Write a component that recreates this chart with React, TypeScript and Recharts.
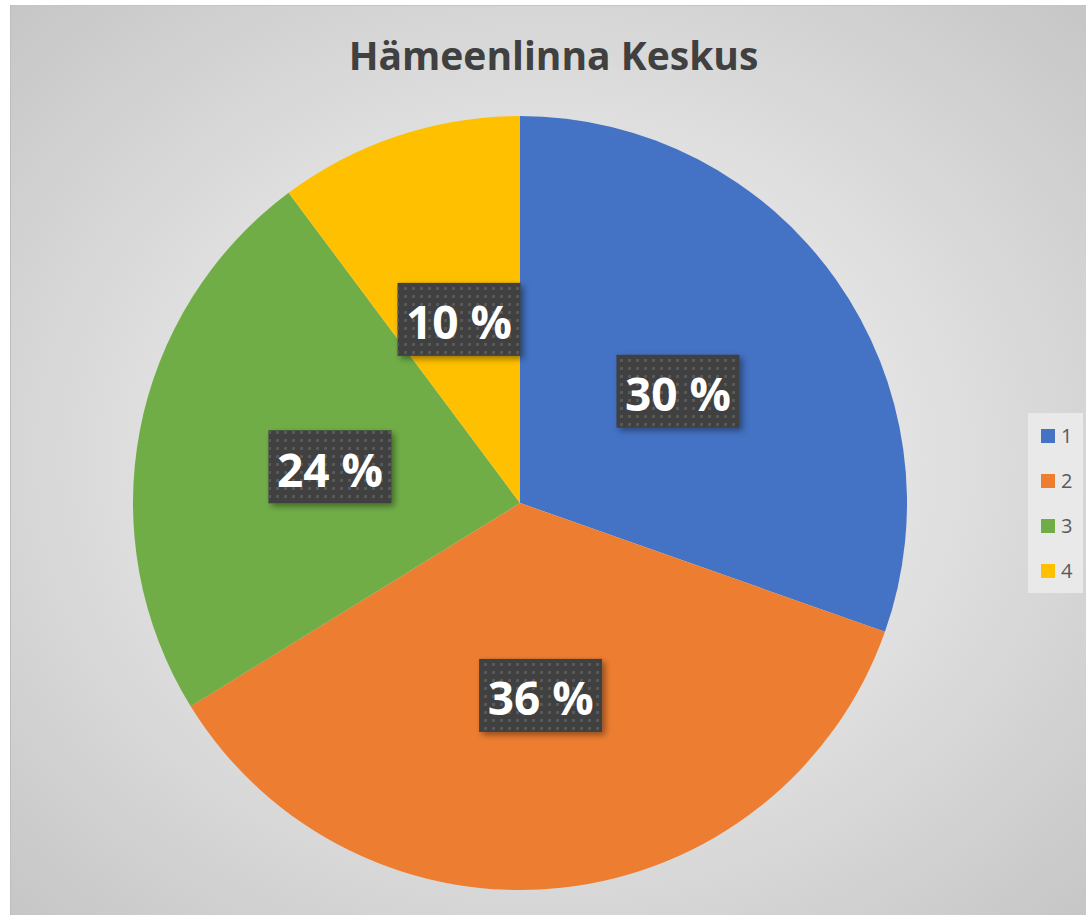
import React from 'react';
import { Cell, Legend, Pie, PieChart } from 'recharts';

const categories = ['1', '2', '3', '4'];
const shares = [30.4, 35.8, 23.6, 10.2];
const colors = ['#4472C4', '#ED7D31', '#70AD47', '#FFC000'];

const data = categories.map((name, i) => ({ name, value: shares[i] }));

const RADIAN = Math.PI / 180;

const renderLabel = (props: any) => {
    const { cx, cy, midAngle, outerRadius, percent } = props;
    const r = outerRadius * 0.5;
    const x = cx + r * Math.cos(-midAngle * RADIAN);
    const y = cy + r * Math.sin(-midAngle * RADIAN);
    const w = 123;
    const h = 73;
    return (
        <g>
            <rect x={x - w / 2} y={y - h / 2} width={w} height={h} fill="#404040" filter="url(#lblShadow)" />
            <rect x={x - w / 2} y={y - h / 2} width={w} height={h} fill="url(#dots)" />
            <text
                x={x}
                y={y + 2}
                textAnchor="middle"
                dominantBaseline="central"
                fill="#ffffff"
                fontFamily="'Open Sans', sans-serif"
                fontWeight={700}
                fontSize={46}
            >
                {`${Math.round(percent * 100)} %`}
            </text>
        </g>
    );
};

const renderLegend = (props: any) => {
    const { payload } = props;
    return (
        <div
            style={{
                background: '#e9e9e9',
                width: 55,
                height: 180,
                boxSizing: 'border-box',
                paddingLeft: 13,
            }}
        >
            {payload.map((entry: any) => (
                <div key={entry.value} style={{ display: 'flex', alignItems: 'center', height: 45 }}>
                    <span style={{ display: 'inline-block', width: 14, height: 14, background: entry.color, marginRight: 6 }} />
                    <span style={{ fontFamily: "'Open Sans', sans-serif", fontSize: 20, color: '#595959' }}>{entry.value}</span>
                </div>
            ))}
        </div>
    );
};

export default function App() {
    return (
        <div
            style={{
                position: 'absolute',
                left: 10,
                top: 5,
                width: 1076,
                height: 910,
                background: 'radial-gradient(ellipse at 50% 50%, #f4f4f4 0%, #e3e3e3 45%, #c6c6c6 100%)',
                borderLeft: '1px solid #bdbdbd',
                borderTop: '1px solid #c4c4c4',
                boxSizing: 'border-box',
            }}
        >
            <div
                style={{
                    position: 'absolute',
                    top: 22,
                    left: 0,
                    width: 1075,
                    textAlign: 'center',
                    fontFamily: "'Open Sans', sans-serif",
                    fontWeight: 700,
                    fontSize: 39,
                    color: '#404040',
                    transform: 'translateX(5px)',
                }}
            >
                Hämeenlinna Keskus
            </div>
            <PieChart
                width={1076}
                height={910}
                margin={{ top: 0, right: 0, bottom: 0, left: 0 }}
                style={{ position: 'absolute', left: -1, top: -1 }}
            >
                <defs>
                    <pattern id="dots" width="8" height="8" patternUnits="userSpaceOnUse">
                        <rect x="2" y="2" width="3" height="3" fill="#595959" />
                    </pattern>
                    <filter id="lblShadow" x="-20%" y="-20%" width="150%" height="150%">
                        <feDropShadow dx="3" dy="3" stdDeviation="3" floodColor="#000" floodOpacity="0.4" />
                    </filter>
                </defs>
                <Pie
                    data={data}
                    dataKey="value"
                    nameKey="name"
                    cx={510}
                    cy={498}
                    outerRadius={387}
                    startAngle={90}
                    endAngle={-270}
                    stroke="none"
                    labelLine={false}
                    label={renderLabel}
                    isAnimationActive={false}
                >
                    {data.map((d, i) => (
                        <Cell key={d.name} fill={colors[i]} />
                    ))}
                </Pie>
                <Legend
                    content={renderLegend}
                    layout="vertical"
                    wrapperStyle={{ position: 'absolute', left: 1018, top: 408, width: 55 }}
                />
            </PieChart>
        </div>
    );
}
